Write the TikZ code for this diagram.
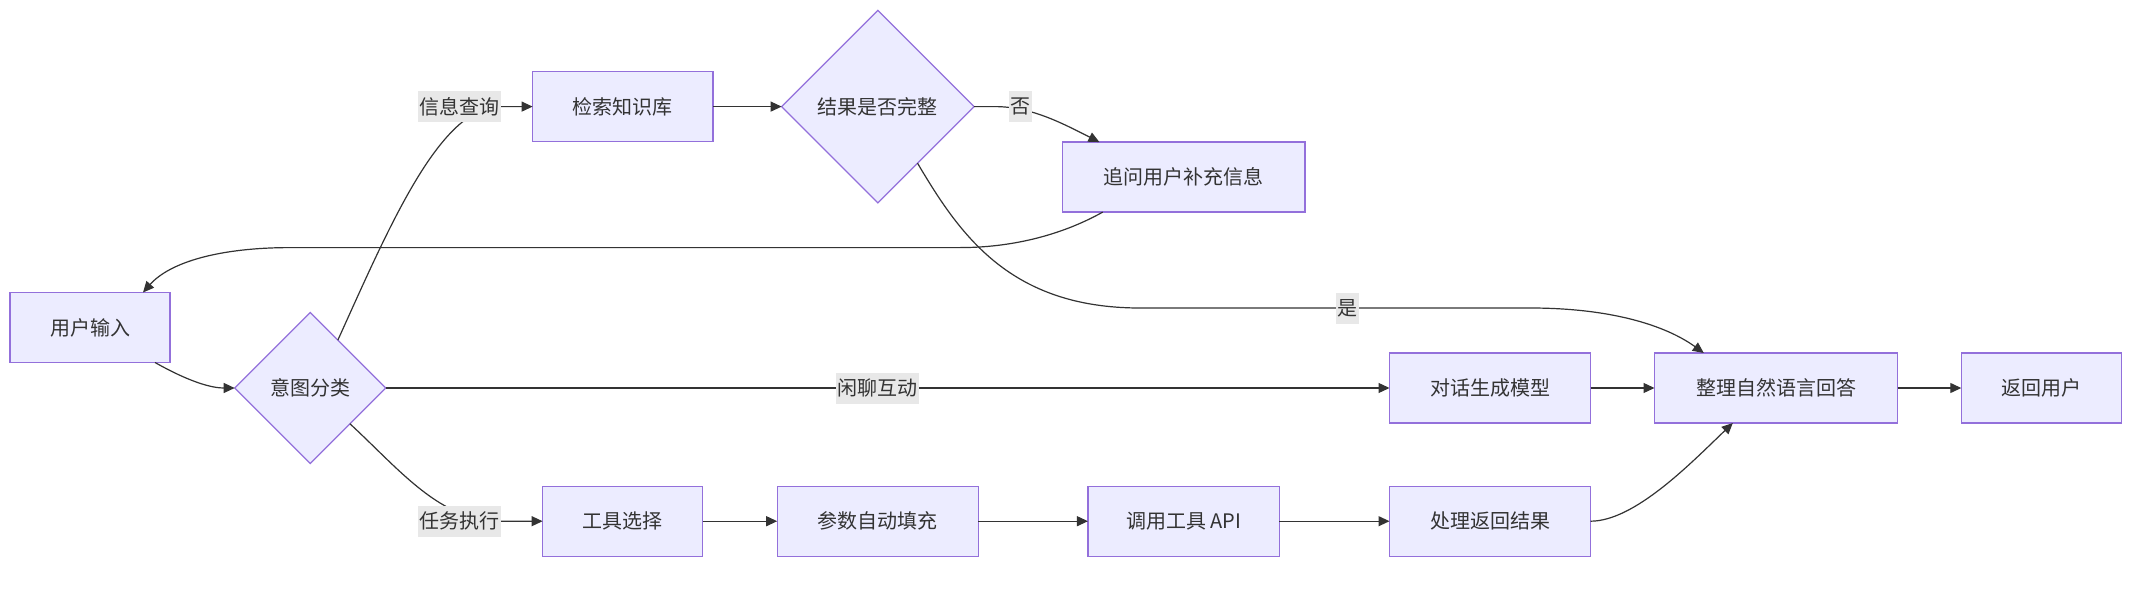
\documentclass[tikz,border=0pt]{standalone}
\usepackage{fontspec}
\setmainfont{Noto Sans CJK SC}
\usetikzlibrary{shapes.geometric,arrows.meta}
\definecolor{nodefill}{HTML}{ECECFF}
\definecolor{nodedraw}{HTML}{9370DB}
\definecolor{edgecol}{HTML}{333333}
\definecolor{lblfill}{HTML}{E8E8E8}
\begin{document}
\begin{tikzpicture}[x=1pt,y=-1pt,
  txt/.style={text=edgecol,font=\fontsize{20}{24}\selectfont},
  box/.style={txt,draw=nodedraw,fill=nodefill,line width=1.3pt,minimum height=70pt,inner sep=0pt,outer sep=0pt},
  dia/.style={txt,diamond,aspect=1,draw=nodedraw,fill=nodefill,line width=1.3pt,inner sep=0pt,outer sep=0pt},
  lbl/.style={txt,fill=lblfill,inner xsep=1.5pt,inner ysep=0pt,minimum height=31pt},
  edge/.style={draw=edgecol,line width=1.2pt,-{Triangle[length=11pt,width=10pt]}}
]
\useasboundingbox (0,0) rectangle (2133,594);

% nodes
\node[box,minimum width=160pt] (user) at (90,327.5) {用户输入};
\node[dia,minimum width=151pt,minimum height=151pt] (intent) at (310.2,388) {意图分类};
\node[box,minimum width=180.4pt] (kb) at (622.8,106.6) {检索知识库};
\node[dia,minimum width=192.5pt,minimum height=192.5pt] (res) at (877.9,106.6) {结果是否完整};
\node[box,minimum width=242.4pt] (ask) at (1183.9,177.1) {追问用户补充信息};
\node[box,minimum width=201pt] (chat) at (1490,388) {对话生成模型};
\node[box,minimum width=243pt] (ans) at (1776,388) {整理自然语言回答};
\node[box,minimum width=160pt] (ret) at (2041.3,388) {返回用户};
\node[box,minimum width=160pt] (tool) at (622.6,521.2) {工具选择};
\node[box,minimum width=201pt] (param) at (877.7,521.2) {参数自动填充};
\node[box,minimum width=191.5pt] (api) at (1183.7,521.2) {调用工具 API};
\node[box,minimum width=201pt] (proc) at (1490,521.2) {处理返回结果};

% connectors
\draw[edge] ([xshift=145pt]user.south west) .. controls (195,385) and (215,388) .. (intent.west);
\draw[edge] (intent.60) .. controls (390,225) and (440,106.6) .. (500,106.6) -- (kb.west);
\draw[edge] (intent.-42) .. controls (400,470) and (440,521.2) .. (500,521.2) -- (tool.west);
\draw[edge] (intent.east) -- (chat.west);
\draw[edge] (kb.east) -- (res.west);
\draw[edge] (res.east) -- (995,106.6) .. controls (1030,106.6) and (1060,122) .. ([xshift=36.7pt]ask.north west);
\draw[edge] ([xshift=40pt]ask.south west) .. controls (1060,236) and (1010,247.6) .. (960,247.6) -- (290,247.6) .. controls (220,247.6) and (170,262) .. ([xshift=133pt]user.north west);
\draw[edge] (res.-55) .. controls (960,235) and (1010,308) .. (1140,308) -- (1530,308) .. controls (1610,308) and (1665,325) .. ([xshift=49.3pt]ans.north west);
\draw[edge] (chat.east) -- (ans.west);
\draw[edge] (ans.east) -- (ret.west);
\draw[edge] (tool.east) -- (param.west);
\draw[edge] (param.east) -- (api.west);
\draw[edge] (api.east) -- (proc.west);
\draw[edge] (proc.east) .. controls (1635,521.2) and (1692,462) .. ([xshift=78.3pt]ans.south west);

% edge labels
\node[lbl] (l1) at (459,106.6) {信息查询};
\node[lbl] (l2) at (459,521.2) {任务执行};
\node[lbl] (l3) at (877.7,388) {闲聊互动};
\node[lbl] (l4) at (1020.5,106.6) {否};
\node[lbl] (l5) at (1347,308) {是};
\end{tikzpicture}
\end{document}
